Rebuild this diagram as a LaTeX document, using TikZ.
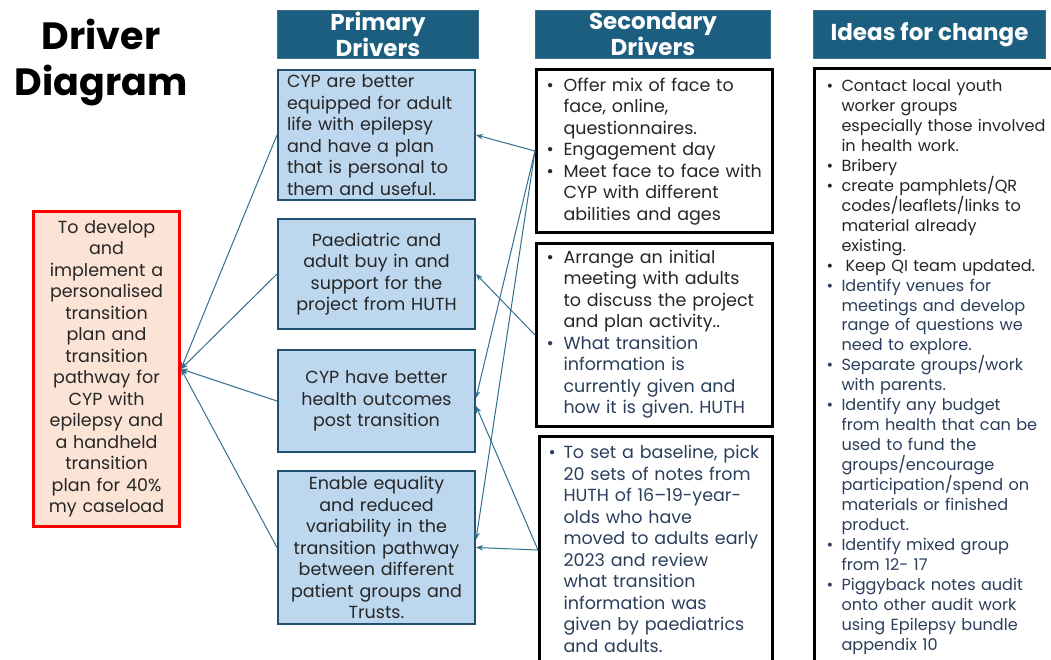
\documentclass[tikz,border=0pt]{standalone}
\usepackage{fontspec}
\setmainfont{Poppins}
\usetikzlibrary{arrows.meta}
\frenchspacing

\definecolor{headfill}{HTML}{1B5E80}
\definecolor{headline}{HTML}{3F6F88}
\definecolor{pfill}{HTML}{BDD7EE}
\definecolor{pline}{HTML}{1F5070}
\definecolor{goalfill}{HTML}{FBE3D6}
\definecolor{goalline}{HTML}{FF0000}
\definecolor{arrowcol}{HTML}{31708F}
\definecolor{inkdark}{HTML}{262626}
\definecolor{inknavy}{HTML}{2B3F5C}

% bulleted paragraph with a hanging indent; lines broken by \newline
\newlength\bhang
\setlength\bhang{17pt}
\newcommand\bitem[1]{\par\noindent\hangindent=\bhang\hangafter=1\makebox[\bhang][l]{\textbullet}#1\par}
% one unbreakable line of a bulleted paragraph
\newcommand\bline[1]{\mbox{#1}}
% negative room above a list, lifting it slightly inside its box
\newcommand\liftlist[1]{\vspace*{-#1}}

\tikzset{
  headbox/.style={draw=headline, line width=1pt, fill=headfill, text=white,
    font=\bfseries\fontsize{23}{26}\selectfont, align=center, inner sep=0pt,
    anchor=north west},
  goalbox/.style={draw=goalline, line width=3pt, fill=goalfill, text=inkdark,
    font=\fontsize{17.5}{21.5}\selectfont, align=center, inner xsep=6pt,
    text width=134pt, minimum width=146pt, anchor=north west},
  pbox/.style={draw=pline, line width=2pt, fill=pfill, text=inkdark,
    font=\fontsize{17.5}{21.5}\selectfont, inner xsep=9pt, text width=179pt,
    minimum width=197pt, anchor=north west},
  sbox/.style={draw=black, line width=3pt, fill=white, text=inkdark,
    font=\fontsize{17.5}{21.5}\selectfont, align=left, inner xsep=10pt,
    text width=216pt, minimum width=236pt, anchor=north west},
  arr/.style={draw=arrowcol, line width=1pt, -{Stealth[length=7pt,width=5.5pt]}},
}

\begin{document}
\begin{tikzpicture}[x=1pt,y=-1pt]
\useasboundingbox (0,0) rectangle (1051,660);

% title
\node[font=\bfseries\fontsize{38}{46}\selectfont, align=center, inner sep=0pt,
  text=black] (title) at (101,63) {Driver\\Diagram};

% column headers
\node[headbox, minimum width=201pt, minimum height=48pt] (hprim) at (277,10) {Primary\\Drivers};
\node[headbox, minimum width=235pt, minimum height=48pt] (hsec) at (535,10) {Secondary\\Drivers};
\node[headbox, minimum width=232pt, minimum height=48pt] (hidea) at (813,10) {Ideas for change};

% aim
\node[goalbox, minimum height=315pt] (goal) at (32,210)
  {To develop\\and\\implement a\\personalised\\transition\\plan and\\transition\\pathway for\\CYP with\\epilepsy and\\a handheld\\transition\\plan for 40\%\\my caseload};

% primary drivers
\node[pbox, align=left, minimum height=130pt] (p1) at (277,69)
  {CYP are better\\equipped for adult\\life with epilepsy\\and have a plan\\that is personal to\\them and useful.};
\node[pbox, align=center, minimum height=110pt] (p2) at (277,218)
  {Paediatric and\\adult buy in and\\support for the\\project from HUTH};
\node[pbox, align=center, minimum height=102pt] (p3) at (277,349)
  {CYP have better\\health outcomes\\post transition};
\node[pbox, align=center, minimum height=153pt] (p4) at (277,470)
  {Enable equality\\and reduced\\variability in the\\transition pathway\\between different\\patient groups and\\Trusts.};

% secondary drivers
\node[sbox, minimum height=163pt] (s1) at (535,68) {%
  \liftlist{7pt}%
  \bitem{\bline{Offer mix of face to}\newline \bline{face, online,}\newline \bline{questionnaires.}}%
  \bitem{\bline{Engagement day}}%
  \bitem{\bline{Meet face to face with}\newline \bline{CYP with different}\newline \bline{abilities and ages}}};
\node[sbox, minimum height=183pt] (s2) at (535,242) {%
  \liftlist{10pt}%
  \bitem{\bline{Arrange an initial}\newline \bline{meeting with adults}\newline \bline{to discuss the project}\newline \bline{and plan activity..}}%
  \color{inknavy}\bitem{\bline{What transition}\newline \bline{information is}\newline \bline{currently given and}\newline \bline{how it is given. HUTH}}};
\node[sbox, text=inknavy, inner xsep=9pt, text width=215pt, minimum width=233pt,
  minimum height=227pt] (s3) at (538,435) {%
  \liftlist{10pt}%
  \setlength\bhang{15pt}%
  \bitem{\bline{To set a baseline, pick}\newline \bline{20 sets of notes from}\newline \bline{HUTH of 16–19-year-}\newline \bline{olds who have}\newline \bline{moved to adults early}\newline \bline{2023 and review}\newline \bline{what transition}\newline \bline{information was}\newline \bline{given by paediatrics}\newline \bline{and adults.}}};

% ideas for change
\node[sbox, font=\fontsize{16.1}{19.96}\selectfont, inner xsep=12pt, text width=226pt,
  minimum width=250pt, minimum height=595pt] (ideas) at (813,67) {%
  \liftlist{6pt}%
  \setlength\bhang{15pt}%
  \bitem{\bline{Contact local youth}\newline \bline{worker groups}\newline \bline{especially those involved}\newline \bline{in health work.}}%
  \bitem{\bline{Bribery}}%
  \bitem{\bline{create pamphlets/QR}\newline \bline{codes/leaflets/links to}\newline \bline{material already}\newline \bline{existing.}}%
  \bitem{\bline{\hspace{4pt}Keep QI team updated.}}%
  \color{inknavy}%
  \bitem{\bline{Identify venues for}\newline \bline{meetings and develop}\newline \bline{range of questions we}\newline \bline{need to explore.}}%
  \bitem{\bline{Separate groups/work}\newline \bline{with parents.}}%
  \bitem{\bline{Identify any budget}\newline \bline{from health that can be}\newline \bline{used to fund the}\newline \bline{groups/encourage}\newline \bline{participation/spend on}\newline \bline{materials or finished}\newline \bline{product.}}%
  \bitem{\bline{Identify mixed group}\newline \bline{from 12- 17}}%
  \bitem{\bline{Piggyback notes audit}\newline \bline{onto other audit work}\newline \bline{using Epilepsy bundle}\newline \bline{appendix 10}}};

% primary drivers feed the aim
\draw[arr] (p1.west) -- (goal.east);
\draw[arr] (p2.west) -- (goal.east);
\draw[arr] (p3.west) -- (goal.east);
\draw[arr] (p4.west) -- (goal.east);

% secondary drivers feed the primary drivers
\draw[arr] (s1.west) -- (p1.east);
\draw[arr] (s1.west) -- ([yshift=3pt]p3.east);
\draw[arr] (s1.west) -- ([yshift=8pt]p4.east);
\draw[arr] (s2.west) -- (p2.east);
\draw[arr] (s3.west) -- ([yshift=-5pt]p3.east);
\draw[arr] (s3.west) -- (p4.east);
\end{tikzpicture}
\end{document}
